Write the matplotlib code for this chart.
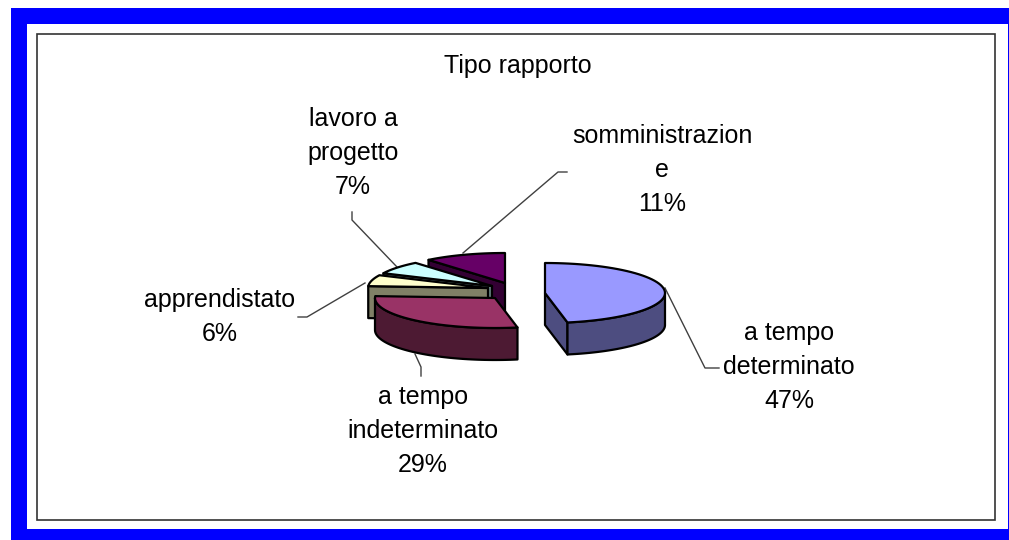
import numpy as np
import matplotlib
matplotlib.use('Agg')
import matplotlib.pyplot as plt
from matplotlib.patches import Polygon, Rectangle

plt.rcParams['font.family'] = ['Liberation Sans', 'DejaVu Sans']

# data
categories = ['a tempo\ndeterminato', 'a tempo\nindeterminato', 'apprendistato',
              'lavoro a\nprogetto', 'somministrazion\ne']
values = [47, 29, 6, 7, 11]
chart_title = 'Tipo rapporto'

# colours for top faces and side walls
top_colors = ['#9999FF', '#993366', '#FFFFCC', '#CCFFFF', '#660066']
wall_colors = ['#4D4D80', '#4D1A33', '#808066', '#668080', '#330033']

# layout, everything in image pixels
apex = [(545, 293), (495, 298), (488, 288), (492, 286), (505, 283)]
rx, ry, depth = 120, 30, 32
label_pos = [(789, 367), (423, 431), (220, 317), (353, 153), (662, 170)]
leaders = [[(665, 288), (705, 368), (719, 368)],
           [(415, 354), (421, 367), (421, 376)],
           [(365, 283), (307, 317), (298, 317)],
           [(397, 267), (352, 220), (352, 212)],
           [(463, 253), (558, 172), (567, 172)]]

fig = plt.figure(figsize=(10.09, 5.40), dpi=100)
ax = fig.add_axes([0, 0, 1, 1])
ax.set_xlim(0, 1009)
ax.set_ylim(540, 0)
ax.axis('off')

# blue outer frame and chart border
ax.add_patch(Rectangle((11, 8), 998, 532, fc='#0000FF', ec='none'))
ax.add_patch(Rectangle((27, 24), 981, 505, fc='white', ec='none'))
ax.add_patch(Rectangle((37, 34), 958, 486, fc='white', ec='#333333', lw=1.2))


def rim(center, a1, a2):
    t = np.radians(np.linspace(a1, a2, 60))
    return np.column_stack([center[0] + rx * np.sin(t), center[1] - ry * np.cos(t)])


def draw_slice(center, a1, a2, top, wall, z):
    edge = rim(center, a1, a2)
    drop = np.array([0, depth])
    c = np.array(center, dtype=float)
    # radial walls facing the viewer
    if np.cos(np.radians(a1 - 90)) < 0:
        pts = [c, edge[0], edge[0] + drop, c + drop]
        ax.add_patch(Polygon(pts, fc=wall, ec='black', lw=1.6, joinstyle='round', zorder=z))
    if np.cos(np.radians(a2 + 90)) < 0:
        pts = [c, edge[-1], edge[-1] + drop, c + drop]
        ax.add_patch(Polygon(pts, fc=wall, ec='black', lw=1.6, joinstyle='round', zorder=z))
    # outer wall, front half only
    lo, hi = max(a1, 90), min(a2, 270)
    if hi > lo:
        front = rim(center, lo, hi)
        pts = np.vstack([front, (front + drop)[::-1]])
        ax.add_patch(Polygon(pts, fc=wall, ec='black', lw=1.6, joinstyle='round', zorder=z))
    pts = np.vstack([c, edge])
    ax.add_patch(Polygon(pts, fc=top, ec='black', lw=1.6, joinstyle='round', zorder=z + 0.5))


angles = np.concatenate([[0], np.cumsum(values)]) * 3.6
# back slices first
order = [4, 3, 2, 1, 0]
for z, i in enumerate(order):
    draw_slice(apex[i], angles[i], angles[i + 1], top_colors[i], wall_colors[i], 3 + z)

for line in leaders:
    xs, ys = zip(*line)
    ax.plot(xs, ys, color='#404040', lw=1.0, zorder=2)

ax.text(518, 66, chart_title, fontsize=18, ha='center', va='center', color='black')
for name, val, pos in zip(categories, values, label_pos):
    ax.text(pos[0], pos[1], f'{name}\n{val}%', fontsize=18, ha='center', va='center',
            linespacing=1.52, color='black', zorder=10)

fig.savefig('out.png', dpi=100)
